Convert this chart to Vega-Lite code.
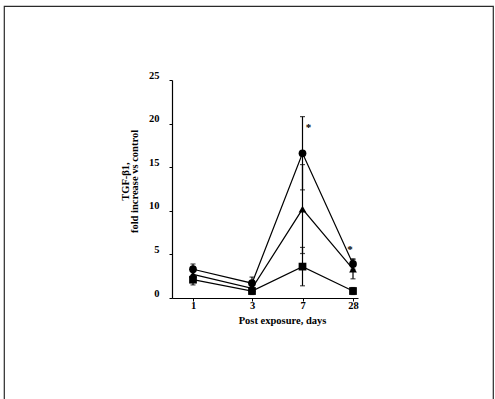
{
  "$schema": "https://vega.github.io/schema/vega-lite/v6.json",
  "width": 489,
  "height": 396,
  "autosize": {"type": "none"},
  "padding": {"left": 4, "top": 6, "right": 2, "bottom": -3},
  "background": "white",
  "config": {
    "view": {"stroke": "#2a2a2a", "strokeWidth": 1.2},
    "font": "Liberation Serif",
    "axis": {
      "domainColor": "black",
      "tickColor": "black",
      "labelColor": "black",
      "titleColor": "black",
      "labelFont": "Liberation Serif",
      "titleFont": "Liberation Serif",
      "labelFontWeight": "bold",
      "titleFontWeight": "bold",
      "domainWidth": 1.2,
      "grid": false
    },
    "axisY": {
      "offset": -168,
      "tickSize": 3,
      "tickCount": 6,
      "labelPadding": 10,
      "labelFontSize": 10.5,
      "labelOffset": -5,
      "titleFontSize": 10.5,
      "titleLineHeight": 9.5,
      "titleAngle": -90,
      "titleX": -52,
      "titleY": 175,
      "titleAlign": "center",
      "titleBaseline": "top"
    }
  },
  "data": {
    "values": [
      {"day": 1, "group": "A", "mean": 3.3, "lo": 2.6, "hi": 3.9},
      {"day": 3, "group": "A", "mean": 1.7, "lo": 1.2, "hi": 2.4},
      {"day": 7, "group": "A", "mean": 16.6, "lo": 12.4, "hi": 20.8},
      {"day": 28, "group": "A", "mean": 3.9, "lo": 3.3, "hi": 4.5},
      {"day": 1, "group": "B", "mean": 2.7, "lo": 2.1, "hi": 3.3},
      {"day": 3, "group": "B", "mean": 1.1, "lo": 0.8, "hi": 1.5},
      {"day": 7, "group": "B", "mean": 10.2, "lo": 5.1, "hi": 15.3},
      {"day": 28, "group": "B", "mean": 3.3, "lo": 2.2, "hi": 4.4},
      {"day": 1, "group": "C", "mean": 2.1, "lo": 1.5, "hi": 2.6},
      {"day": 3, "group": "C", "mean": 0.8, "lo": 0.4, "hi": 1.2},
      {"day": 7, "group": "C", "mean": 3.6, "lo": 1.4, "hi": 5.8},
      {"day": 28, "group": "C", "mean": 0.8, "lo": 0.4, "hi": 1.2}
    ]
  },
  "encoding": {
    "x": {
      "field": "day",
      "type": "quantitative",
      "scale": {"domain": [0, 1, 3, 7, 28, 30], "range": [168, 189, 248, 298.5, 349, 354], "zero": false, "nice": false},
      "axis": {
        "values": [1, 3, 7, 28],
        "offset": -104,
        "tickSize": 3,
        "labelPadding": -1,
        "labelFontSize": 10.5,
        "title": "Post exposure, days",
        "titleFontSize": 10.5,
        "titleX": 278,
        "titleY": 22,
        "titleAlign": "center",
        "titleBaseline": "middle"
      }
    }
  },
  "layer": [
    {
      "mark": {"type": "line", "color": "black", "strokeWidth": 1.2},
      "encoding": {
        "y": {
          "field": "mean",
          "type": "quantitative",
          "scale": {"domain": [0, 25], "range": [292, 74], "zero": false, "nice": false},
          "title": ["TGF-β1,", "fold increase vs control"]
        },
        "detail": {"field": "group"}
      }
    },
    {
      "mark": {"type": "rule", "color": "black", "strokeWidth": 1.2},
      "encoding": {
        "y": {"field": "lo", "type": "quantitative", "scale": {"domain": [0, 25], "range": [292, 74], "zero": false, "nice": false}, "title": ["TGF-β1,", "fold increase vs control"]},
        "y2": {"field": "hi"}
      }
    },
    {
      "mark": {"type": "tick", "orient": "horizontal", "color": "black", "size": 5, "thickness": 1.2},
      "encoding": {
        "y": {"field": "lo", "type": "quantitative", "scale": {"domain": [0, 25], "range": [292, 74], "zero": false, "nice": false}, "title": ["TGF-β1,", "fold increase vs control"]}
      }
    },
    {
      "mark": {"type": "tick", "orient": "horizontal", "color": "black", "size": 5, "thickness": 1.2},
      "encoding": {
        "y": {"field": "hi", "type": "quantitative", "scale": {"domain": [0, 25], "range": [292, 74], "zero": false, "nice": false}, "title": ["TGF-β1,", "fold increase vs control"]}
      }
    },
    {
      "mark": {"type": "point", "filled": true, "color": "black", "opacity": 1, "size": 60},
      "encoding": {
        "y": {"field": "mean", "type": "quantitative", "scale": {"domain": [0, 25], "range": [292, 74], "zero": false, "nice": false}, "title": ["TGF-β1,", "fold increase vs control"]},
        "shape": {
          "field": "group",
          "type": "nominal",
          "scale": {"domain": ["A", "B", "C"], "range": ["circle", "triangle-up", "square"]},
          "legend": null
        }
      }
    },
    {
      "data": {"values": [{"day": 7, "level": 19.8, "note": "*"}]},
      "mark": {"type": "text", "color": "black", "fill": "black", "fontSize": 11, "fontWeight": "bold", "dx": 6, "dy": 3},
      "encoding": {
        "y": {"field": "level", "type": "quantitative", "scale": {"domain": [0, 25], "range": [292, 74], "zero": false, "nice": false}, "title": ["TGF-β1,", "fold increase vs control"]},
        "text": {"field": "note"}
      }
    },
    {
      "data": {"values": [{"day": 28, "level": 5.9, "note": "*"}]},
      "mark": {"type": "text", "color": "black", "fill": "black", "fontSize": 11, "fontWeight": "bold", "dx": -3, "dy": 3},
      "encoding": {
        "y": {"field": "level", "type": "quantitative", "scale": {"domain": [0, 25], "range": [292, 74], "zero": false, "nice": false}, "title": ["TGF-β1,", "fold increase vs control"]},
        "text": {"field": "note"}
      }
    }
  ]
}
